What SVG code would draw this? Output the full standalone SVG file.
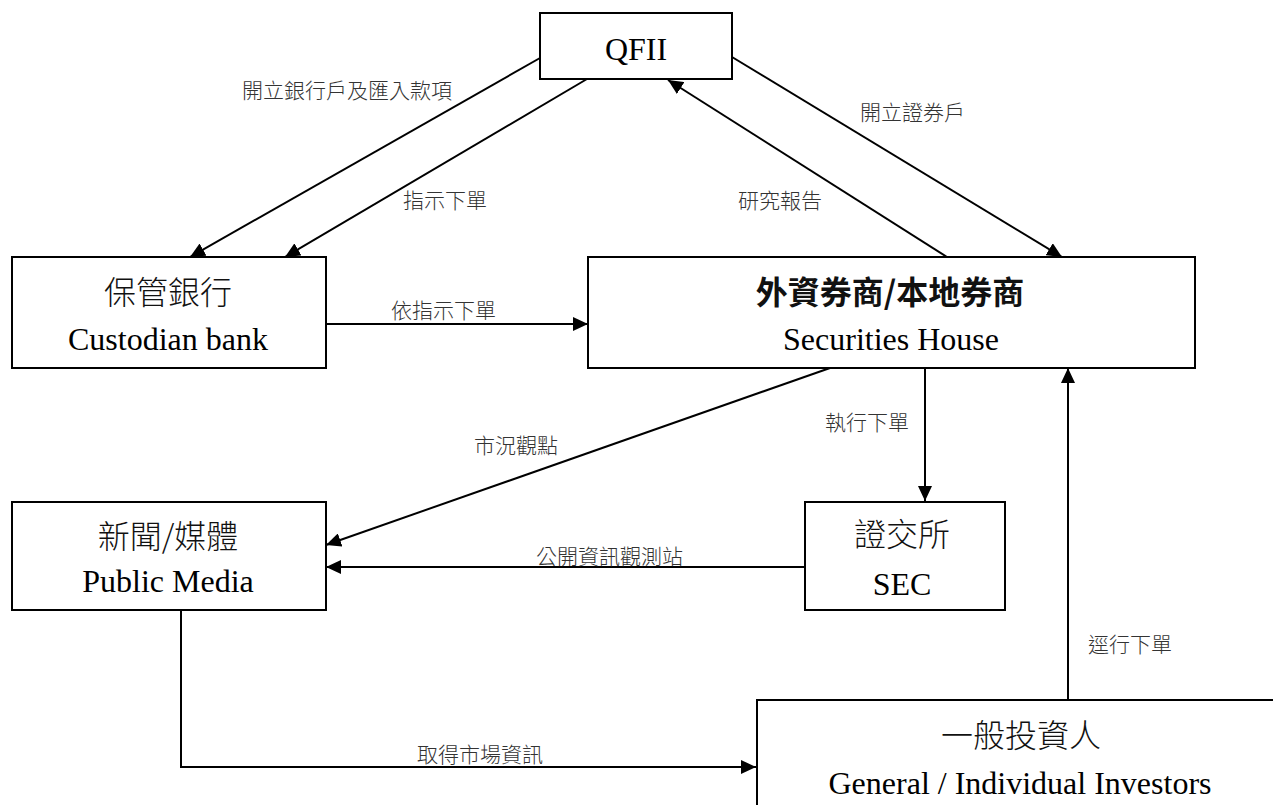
<svg xmlns="http://www.w3.org/2000/svg" width="1273" height="805" viewBox="0 0 1273 805">
  <style>
    .box { fill: #ffffff; stroke: #000000; stroke-width: 2; }
    .en { font-family: "Liberation Serif", "Times New Roman", serif; font-size: 32px; fill: #000000; text-anchor: middle; }
    .zh { font-family: "Noto Sans CJK TC", "Noto Sans CJK SC", sans-serif; font-size: 32px; fill: #111111; text-anchor: middle; font-weight: 300; }
    .zhb { font-weight: 700; }
    .lbl { font-family: "Noto Sans CJK TC", "Noto Sans CJK SC", sans-serif; font-size: 21px; fill: #333333; font-weight: 300; }
    .edge { fill: none; stroke: #000000; stroke-width: 2; marker-end: url(#arrow); }
  </style>
  <defs>
    <marker id="arrow" markerUnits="userSpaceOnUse" markerWidth="15" markerHeight="14" refX="15" refY="7" orient="auto">
      <path d="M0,0 L15,7 L0,14 z" fill="#000000"/>
    </marker>
  </defs>
  <rect x="0" y="0" width="1273" height="805" fill="#ffffff"/>

  <g id="connectors">
    <line class="edge" x1="540" y1="58" x2="190" y2="257"/>
    <line class="edge" x1="587" y1="79" x2="285" y2="257"/>
    <line class="edge" x1="947" y1="257" x2="668" y2="80"/>
    <line class="edge" x1="732" y1="57" x2="1062" y2="257"/>
    <line class="edge" x1="326" y1="324" x2="588" y2="324"/>
    <line class="edge" x1="830" y1="368" x2="326" y2="545"/>
    <line class="edge" x1="925" y1="368" x2="925" y2="501"/>
    <line class="edge" x1="805" y1="567" x2="326" y2="567"/>
    <polyline class="edge" points="181,609 181,767 756,767"/>
    <line class="edge" x1="1068" y1="700" x2="1068" y2="368"/>

    <text class="lbl" x="242" y="98">開立銀行戶及匯入款項</text>
    <text class="lbl" x="403" y="208">指示下單</text>
    <text class="lbl" x="860" y="120">開立證券戶</text>
    <text class="lbl" x="738" y="208">研究報告</text>
    <text class="lbl" x="391" y="318">依指示下單</text>
    <text class="lbl" x="825" y="430">執行下單</text>
    <text class="lbl" x="474" y="453">市況觀點</text>
    <text class="lbl" x="536" y="564">公開資訊觀測站</text>
    <text class="lbl" x="417" y="762">取得市場資訊</text>
    <text class="lbl" x="1088" y="652">逕行下單</text>
  </g>

  <g id="node-qfii">
    <rect class="box" x="540" y="13" width="192" height="66"/>
    <text class="en" x="636" y="60">QFII</text>
  </g>

  <g id="node-custodian">
    <rect class="box" x="12" y="257" width="314" height="111"/>
    <text class="zh" x="168" y="304">保管銀行</text>
    <text class="en" x="168" y="350">Custodian bank</text>
  </g>

  <g id="node-securities">
    <rect class="box" x="588" y="257" width="607" height="111"/>
    <text class="zh zhb" x="890" y="304">外資券商/本地券商</text>
    <text class="en" x="891" y="350">Securities House</text>
  </g>

  <g id="node-media">
    <rect class="box" x="12" y="502" width="314" height="108"/>
    <text class="zh" x="168" y="548">新聞/媒體</text>
    <text class="en" x="168" y="592">Public Media</text>
  </g>

  <g id="node-sec">
    <rect class="box" x="805" y="502" width="200" height="108"/>
    <text class="zh" x="902" y="546">證交所</text>
    <text class="en" x="902" y="595">SEC</text>
  </g>

  <g id="node-investors">
    <rect class="box" x="757" y="700" width="540" height="130"/>
    <text class="zh" x="1021" y="747">一般投資人</text>
    <text class="en" x="1020" y="794">General / Individual Investors</text>
  </g>
</svg>
